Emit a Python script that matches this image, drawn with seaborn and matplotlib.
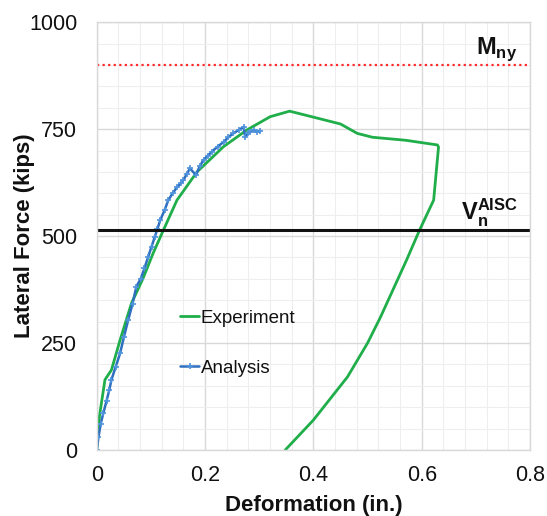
import matplotlib
matplotlib.use("Agg")
import matplotlib.pyplot as plt
import seaborn as sns
import pandas as pd
from matplotlib.ticker import MultipleLocator

exp_x = [0.0, 0.005, 0.015, 0.027, 0.043, 0.064, 0.085, 0.104, 0.123, 0.148, 0.185, 0.234, 0.277, 0.32, 0.356,
         0.40, 0.45, 0.481, 0.509, 0.57, 0.629, 0.631, 0.622, 0.596, 0.572, 0.524, 0.50, 0.463, 0.40, 0.348]
exp_y = [0.0, 80, 164, 187, 257, 343, 400, 460, 514, 584, 650, 709, 748, 779, 792,
         778, 762, 740, 731, 724, 713, 708, 584, 514, 444, 311, 250, 171, 70, 0]

ana_x = [0.0, 0.003, 0.007, 0.012, 0.018, 0.023, 0.027, 0.035, 0.043, 0.05, 0.058, 0.066, 0.073, 0.081, 0.088,
         0.095, 0.101, 0.107, 0.112, 0.117, 0.125, 0.132, 0.14, 0.148, 0.155, 0.16, 0.166, 0.172, 0.183, 0.19,
         0.197, 0.205, 0.212, 0.223, 0.234, 0.243, 0.252, 0.262, 0.271, 0.274, 0.279, 0.283, 0.29, 0.296, 0.302]
ana_y = [0.0, 30, 60, 86, 115, 140, 164, 195, 226, 264, 304, 342, 382, 400, 425,
         452, 475, 498, 517, 537, 560, 584, 600, 614, 623, 631, 645, 658, 643, 663,
         678, 688, 697, 709, 720, 731, 740, 748, 755, 732, 740, 744, 747, 744, 746]

mny = 900
vn = 514

df_exp = pd.DataFrame({"x": exp_x, "y": exp_y})
df_ana = pd.DataFrame({"x": ana_x, "y": ana_y})

sns.set_style("white")
plt.rcParams["font.family"] = ["Liberation Sans", "DejaVu Sans"]
plt.rcParams["text.color"] = "#111111"
plt.rcParams["mathtext.fontset"] = "custom"
plt.rcParams["mathtext.bf"] = "Liberation Sans:bold"
plt.rcParams["mathtext.rm"] = "Liberation Sans"

fig = plt.figure(figsize=(5.47, 5.16), dpi=100)
ax = fig.add_axes([0.177, 0.128, 0.792, 0.829])

green = "#1fae4a"
blue = "#2f6fbf"

sns.lineplot(data=df_exp, x="x", y="y", ax=ax, color=green, lw=2, sort=False,
             estimator=None, label="Experiment")
sns.lineplot(data=df_ana, x="x", y="y", ax=ax, color=blue, lw=1.8, sort=False,
             estimator=None, marker="+", markersize=4, markeredgewidth=1.2,
             markeredgecolor="#4f93dc", label="Analysis")

ax.axhline(mny, color="#ff2a2a", ls=(0, (1, 1.5)), lw=1.6)
ax.axhline(vn, color="#111111", lw=2.2)

ax.text(0.70, 938, r"$\mathbf{M}_{\mathbf{ny}}$", fontsize=17, ha="left", va="center")
ax.text(0.673, 555, r"$\mathbf{V}_{\mathbf{n}}^{\mathbf{AISC}}$", fontsize=17, ha="left", va="center")

ax.set_xlim(0, 0.8)
ax.set_ylim(0, 1000)
ax.xaxis.set_minor_locator(MultipleLocator(0.04))
ax.yaxis.set_major_locator(MultipleLocator(250))
ax.yaxis.set_minor_locator(MultipleLocator(50))
ax.set_xticks([0, 0.2, 0.4, 0.6, 0.8])
ax.set_xticklabels(["0", "0.2", "0.4", "0.6", "0.8"])
ax.grid(True, which="major", color="#d9d9d9", lw=1)
ax.grid(True, which="minor", color="#eeeeee", lw=0.8)
ax.set_axisbelow(True)
for s in ax.spines.values():
    s.set_color("#d9d9d9")
    s.set_linewidth(1)
ax.tick_params(axis="both", which="both", length=0, labelsize=15.5, labelcolor="#111111")
ax.tick_params(axis="x", pad=11)
ax.tick_params(axis="y", pad=14)

ax.set_xlabel("Deformation (in.)", fontsize=16, fontweight="bold", labelpad=6, color="#111111")
ax.set_ylabel("Lateral Force (kips)", fontsize=16, fontweight="bold", color="#111111")
ax.yaxis.set_label_coords(-0.143, 0.502)

leg = ax.legend(loc="upper left", bbox_to_anchor=(0.175, 0.345), frameon=False, fontsize=13.5,
                handlelength=1.0, handletextpad=0.1, labelspacing=1.75, borderaxespad=0)
for t in leg.get_texts():
    t.set_color("#111111")

fig.savefig("out.png", dpi=100)
